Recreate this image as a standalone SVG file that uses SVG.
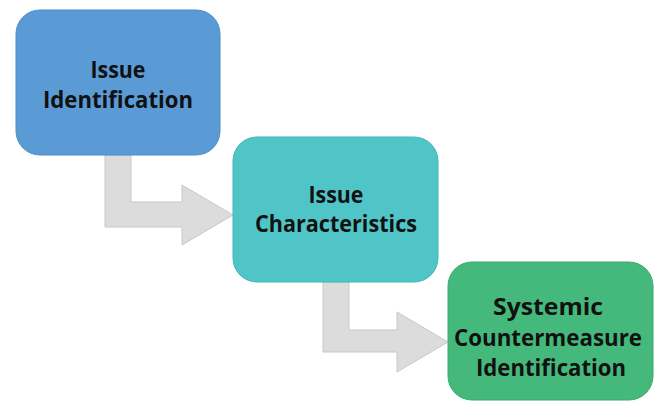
<svg xmlns="http://www.w3.org/2000/svg" width="660" height="402" viewBox="0 0 660 402">
<style>
.box{stroke-width:1}
.lbl{font-family:"Open Sans","Noto Sans",sans-serif;font-weight:bold;font-size:23px;fill:#111;text-anchor:middle}
.big{font-size:24px}
.arr{fill:#dcdcdc;stroke:#c8c8c8;stroke-width:1}
</style>
<rect width="660" height="402" fill="#ffffff"/>
<g id="connectors">
<path class="arr" d="M105,155 L131,155 L131,202 L182,202 L182,185 L233,215 L182,245 L182,227 L105,227 Z"/>
<path class="arr" d="M323,282 L349,282 L349,330 L397,330 L397,312 L448,342 L397,372 L397,352 L323,352 Z"/>
</g>
<g id="node1">
<rect class="box" x="16" y="10" width="204" height="145" rx="24" fill="#5b9bd5" stroke="#4f8cc4"/>
<text class="lbl" x="118" y="78" textLength="55" lengthAdjust="spacingAndGlyphs">Issue</text>
<text class="lbl" x="118" y="108" textLength="150" lengthAdjust="spacingAndGlyphs">Identification</text>
</g>
<g id="node2">
<rect class="box" x="233" y="137" width="205" height="145" rx="24" fill="#4fc5c7" stroke="#45b5b7"/>
<text class="lbl" x="336" y="203" textLength="55" lengthAdjust="spacingAndGlyphs">Issue</text>
<text class="lbl" x="336" y="232" textLength="162" lengthAdjust="spacingAndGlyphs">Characteristics</text>
</g>
<g id="node3">
<rect class="box" x="448" y="262" width="205" height="138" rx="24" fill="#45b97c" stroke="#3ca96f"/>
<text class="lbl big" x="548" y="315" textLength="110" lengthAdjust="spacingAndGlyphs">Systemic</text>
<text class="lbl big" x="548" y="346" textLength="188" lengthAdjust="spacingAndGlyphs">Countermeasure</text>
<text class="lbl big" x="551" y="376" textLength="150" lengthAdjust="spacingAndGlyphs">Identification</text>
</g>
</svg>
